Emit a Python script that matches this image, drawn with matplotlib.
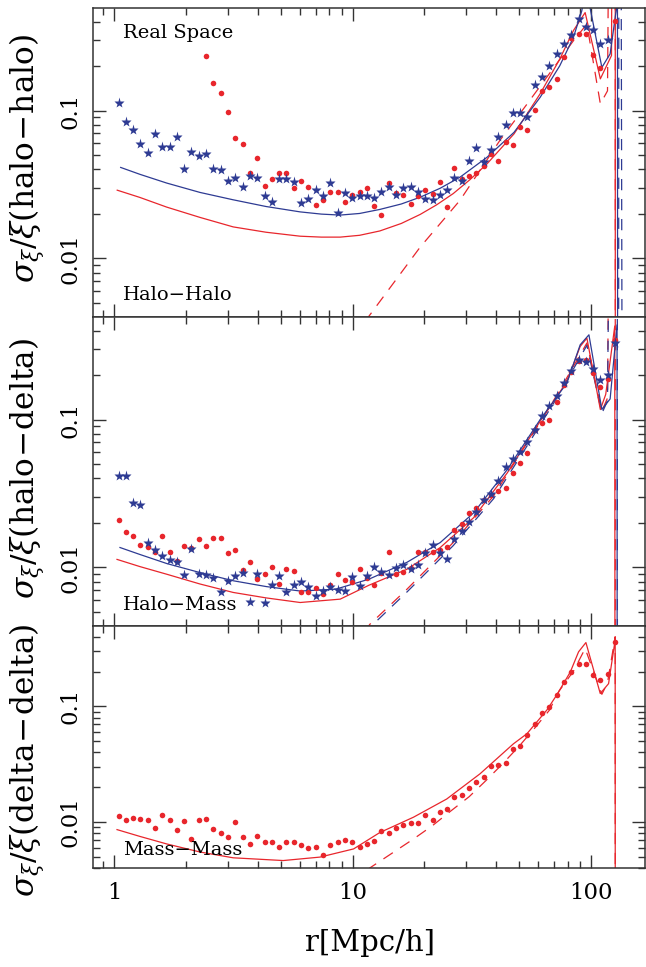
import numpy as np
import matplotlib
matplotlib.use('AGG')
from matplotlib import pyplot
from matplotlib.ticker import NullFormatter

pyplot.rcParams['font.family'] = ['DejaVu Serif']
pyplot.rcParams['mathtext.fontset'] = 'dejavuserif'

RED = '#e8262c'
BLUE = '#2e3b93'
nan = np.nan

# separation bins (Mpc/h)
r_bins = [1.045, 1.121, 1.203, 1.291, 1.385, 1.486, 1.595, 1.711, 1.836, 1.970,
          2.113, 2.268, 2.433, 2.611, 2.802, 3.006, 3.226, 3.461, 3.714, 3.985,
          4.276, 4.588, 4.923, 5.283, 5.668, 6.081, 6.526, 7.002, 7.513, 8.061,
          8.650, 9.281, 9.959, 10.69, 11.47, 12.30, 13.20, 14.17, 15.20, 16.31,
          17.50, 18.78, 20.15, 21.62, 23.20, 24.89, 26.71, 28.66, 30.75, 33.00,
          35.40, 37.99, 40.76, 43.74, 46.93, 50.35, 54.03, 57.97, 62.21, 66.75,
          71.61, 76.84, 82.45, 88.47, 94.93, 101.9, 109.3, 117.3, 125.9]

# halo-halo
hh_stars = [0.113, 0.0843, 0.0744, 0.0598, 0.052, 0.0689, 0.0571, 0.0571, 0.0658, 0.0399,
            0.0528, 0.0489, 0.0505, 0.0399, 0.0394, 0.0336, 0.0347, 0.0306, 0.0358, 0.0352,
            0.0262, 0.0239, 0.0342, 0.0342, 0.0326, 0.0235, 0.0251, 0.0288, 0.0262, 0.0321,
            0.0201, 0.0275, 0.0254, 0.0262, 0.0262, 0.0254, 0.0279, 0.0306, 0.0270, 0.0297,
            0.0306, 0.0279, 0.0251, 0.0247, 0.0267, 0.0292, 0.0352, 0.0336, 0.0459, 0.0562,
            0.0446, 0.0537, 0.0658, 0.0804, 0.0969, 0.0969, 0.091, 0.150, 0.170, 0.201,
            0.243, 0.284, 0.327, 0.419, 0.370, 0.353, 0.284, 0.302, nan]
hh_dots = [nan, nan, nan, nan, nan, nan, nan, nan, nan, nan,
           nan, nan, 0.236, 0.154, 0.131, 0.0985, 0.0655, 0.0596, 0.0379, 0.0474,
           0.0308, 0.0343, 0.0379, 0.0375, 0.0297, 0.0333, 0.0306, 0.0229, 0.0247, 0.0281,
           0.0281, 0.0240, 0.0267, 0.0279, 0.0299, 0.0225, 0.0197, 0.0323, 0.0278, 0.0269,
           0.0234, 0.0262, 0.0292, 0.0273, 0.0328, 0.0222, 0.0407, 0.0342, 0.0360, 0.0379,
           0.0423, 0.0509, 0.0454, 0.0611, 0.0586, 0.078, 0.0741, 0.1016, 0.135, 0.1445,
           0.164, 0.232, 0.310, 0.328, 0.331, 0.239, 0.193, nan, 0.406]

hh_blue_r = [1.067, 1.285, 1.663, 2.294, 3.15, 4.34, 6.03, 7.4, 8.87, 10.7, 13.0, 16.0, 19.2,
             23.3, 28.2, 36.6, 47.5, 61.1, 73.8, 84.2, 91.3, 95.0, 98.8, 110.8, 120.0, 128.8, 129.2]
hh_blue = [0.0412, 0.0370, 0.0323, 0.0279, 0.0249, 0.0224, 0.0206, 0.0199, 0.0196, 0.0201,
           0.0214, 0.0233, 0.0259, 0.0298, 0.0354, 0.0483, 0.0713, 0.123, 0.201, 0.313, 0.474,
           0.70, 0.50, 0.196, 0.242, 0.55, 1e-6]
hh_red_r = [1.032, 1.285, 1.663, 2.294, 3.16, 4.34, 6.03, 7.4, 8.87, 10.7, 13.0, 16.0, 19.2,
            22.5, 26.4, 31.0, 36.6, 47.5, 61.1, 73.8, 84.2, 94.3, 109.2, 121.6, 126.0, 126.2]
hh_red = [0.0289, 0.0258, 0.0222, 0.0189, 0.0163, 0.0150, 0.0141, 0.0139, 0.0139, 0.0143,
          0.0153, 0.0172, 0.0198, 0.0230, 0.0274, 0.0340, 0.0436, 0.0696, 0.130, 0.223, 0.348,
          0.461, 0.164, 0.236, 1e6, 1e-6]
hh_red_lin_r = [10.0, 11.8, 19.2, 28.2, 41.4, 53.9, 69.8, 84.2, 95.9, 109.2, 117.0, 126.0, 126.2]
hh_red_lin = [0.0029, 0.00412, 0.0119, 0.0247, 0.0627, 0.111, 0.196, 0.297, 0.385, 0.111,
              0.136, 1e6, 1e-6]
hh_blue_lin_r = [130.0, 131.0, 136.0]
hh_blue_lin = [1e-6, 1e6, 1e-6]

# halo-mass
hm_stars = [0.0414, 0.0414, 0.0273, 0.0265, 0.0145, 0.0131, 0.0119, 0.0112, 0.0109, 0.00883,
            0.0132, 0.00893, 0.00883, 0.00847, 0.00681, 0.00813, 0.00873, 0.0091, 0.00583, 0.00893,
            0.00569, 0.00755, 0.00879, 0.00681, 0.00764, 0.0080, 0.00736, 0.0064, 0.00689, 0.00733,
            0.00703, 0.00692, 0.00865, 0.00741, 0.00873, 0.01005, 0.00935, 0.00887, 0.00984, 0.0103,
            0.00969, 0.0103, 0.0124, 0.0142, 0.0124, 0.0113, 0.0156, 0.0177, 0.0204, 0.0237,
            0.0285, 0.0311, 0.0381, 0.0479, 0.0537, 0.0601, 0.0703, 0.0847, 0.105, 0.123,
            0.145, 0.177, 0.212, 0.252, 0.245, 0.221, 0.184, 0.201, 0.330]
hm_dots = [0.0208, 0.0173, 0.0163, 0.0141, 0.0138, 0.0126, 0.0163, 0.0126, 0.0111, 0.0139,
           0.0136, 0.0155, 0.0139, 0.0157, 0.0158, 0.0124, 0.0130, 0.00955, 0.0108, 0.0083,
           0.00893, 0.0100, 0.00776, 0.00969, 0.0094, 0.00681, 0.00681, 0.00725, 0.00655, 0.00755,
           0.00897, 0.0082, 0.00796, 0.00969, 0.00851, 0.00755, 0.0092, 0.0126, 0.00906, 0.00929,
           0.00995, 0.0126, 0.01276, 0.01272, 0.0130, 0.0137, 0.0178, 0.0195, 0.0234, 0.0251,
           0.0285, 0.0308, 0.0328, 0.0346, 0.0432, 0.0509, 0.0596, 0.0847, 0.095, 0.0989,
           0.132, 0.172, 0.209, 0.248, 0.254, 0.207, 0.166, 0.189, 0.348]

hm_blue_r = [1.06, 1.285, 1.663, 2.294, 3.16, 4.34, 6.03, 8.5, 11.7, 16.9, 23.3, 32.2, 44.5,
             61.1, 79.1, 89.9, 97.8, 110.8, 120.0, 128.3, 128.6]
hm_blue = [0.0136, 0.0122, 0.0106, 0.0092, 0.0081, 0.0074, 0.0069, 0.0071, 0.0083, 0.0108,
           0.0147, 0.0234, 0.0459, 0.100, 0.177, 0.321, 0.375, 0.117, 0.138, 0.438, 1e-6]
hm_red_r = [1.03, 1.285, 1.663, 2.294, 3.16, 4.34, 6.03, 8.87, 11.7, 16.9, 23.3, 32.2, 44.5,
            61.1, 79.1, 89.9, 95.9, 109.2, 115.0, 125.5, 126.0]
hm_red = [0.0113, 0.0101, 0.00897, 0.0077, 0.00675, 0.0062, 0.00577, 0.00608, 0.00755, 0.00969,
          0.0136, 0.0217, 0.0436, 0.0974, 0.181, 0.313, 0.356, 0.117, 0.148, 0.43, 1e-6]
hm_red_lin_r = [10.0, 11.8, 16.9, 26.4, 38.9, 53.9, 69.8, 84.2, 95.9, 110.8, 117.0, 126.0, 126.2]
hm_red_lin = [0.0028, 0.0041, 0.0071, 0.0147, 0.0303, 0.0696, 0.136, 0.229, 0.330, 0.114,
              0.140, 1e6, 1e-6]
hm_blue_lin_r = [10.0, 11.8, 16.9, 26.4, 38.9, 53.9, 69.8, 84.2, 95.9, 110.8, 117.0, 128.5, 128.8]
hm_blue_lin = [0.0027, 0.0039, 0.0068, 0.0140, 0.0290, 0.0665, 0.130, 0.220, 0.318, 0.110,
               0.134, 1e6, 1e-6]

# mass-mass
mm_dots = [0.01128, 0.01035, 0.01076, 0.01067, 0.01035, 0.00887, 0.01143, 0.01035, 0.00847, 0.01014,
           0.00713, 0.0104, 0.01061, 0.00871, 0.00809, 0.00747, 0.01007, 0.00747, 0.00646, 0.00757,
           0.00673, 0.00673, 0.00613, 0.00673, 0.00673, 0.00637, 0.0060, 0.00608, 0.0052, 0.00637,
           0.00676, 0.00695, 0.00668, 0.00605, 0.00643, 0.0069, 0.00836, 0.00809, 0.00883, 0.00942,
           0.0098, 0.0098, 0.01156, 0.01047, 0.01219, 0.01303, 0.01652, 0.0171, 0.01963, 0.02223,
           0.02425, 0.03055, 0.0314, 0.03226, 0.04235, 0.04495, 0.0562, 0.0704, 0.0882, 0.0994,
           0.126, 0.162, 0.198, 0.233, 0.233, 0.1875, 0.1675, 0.191, 0.361]
mm_red_r = [1.03, 1.285, 1.663, 2.294, 3.16, 5.12, 7.3, 10.1, 13.0, 18.0, 24.8, 34.2, 47.2,
            53.8, 65.2, 71.8, 81.7, 88.5, 95.0, 109.1, 118.2, 126.0, 126.2]
mm_red = [0.00859, 0.0075, 0.00646, 0.0055, 0.0049, 0.00464, 0.00497, 0.00585, 0.0081, 0.0110,
          0.0158, 0.0261, 0.0474, 0.058, 0.093, 0.126, 0.198, 0.296, 0.356, 0.129, 0.157,
          0.376, 1e-6]
mm_red_lin_r = [10.0, 11.8, 18.0, 21.6, 25.8, 30.8, 36.2, 42.5, 49.9, 57.7, 66.7, 73.4, 84.3,
                94.3, 110.8, 117.0, 126.0, 126.2]
mm_red_lin = [0.0029, 0.0040, 0.00713, 0.00929, 0.01245, 0.01655, 0.0228, 0.0318, 0.0453,
              0.0641, 0.0923, 0.136, 0.202, 0.316, 0.127, 0.160, 0.40, 1e-6]

fig = pyplot.figure(figsize=(6.46, 9.67), dpi=100)
W, H = 646.0, 967.0
left, right = 93 / W, 645 / W
rows = [(8, 317), (317, 626), (626, 868)]
axes = []
for top, bot in rows:
    ax = fig.add_axes([left, 1 - bot / H, right - left, (bot - top) / H])
    axes.append(ax)

dash = (9, 7)
lw = 0.9


def style(ax, bottom_labels):
    ax.set_xscale('log')
    ax.set_yscale('log')
    ax.set_xlim(0.817, 168)
    ax.set_ylim(0.004, 0.495)
    ax.set_yticks([0.01, 0.1])
    ax.set_yticklabels(['0.01', '0.1'])
    ax.yaxis.set_minor_formatter(NullFormatter())
    ax.set_xticks([1, 10, 100])
    ax.xaxis.set_minor_formatter(NullFormatter())
    if bottom_labels:
        ax.set_xticklabels(['1', '10', '100'])
    else:
        ax.set_xticklabels([])
    ax.tick_params(which='both', direction='in', top=True, right=True, color='#333333', width=1.0)
    ax.tick_params(which='major', length=9.5)
    ax.tick_params(which='minor', length=5)
    ax.tick_params(axis='y', labelsize=16.5, pad=8, labelrotation=90)
    ax.tick_params(axis='x', labelsize=16.5, pad=10)
    for lab in ax.get_yticklabels():
        lab.set_verticalalignment('center')
    for sp in ax.spines.values():
        sp.set_linewidth(1.1)
        sp.set_color('#333333')


# top panel: halo-halo
ax = axes[0]
ax.plot(hh_red_lin_r, hh_red_lin, color=RED, lw=lw, dashes=dash)
ax.plot(hh_blue_lin_r, hh_blue_lin, color=BLUE, lw=lw, dashes=dash)
ax.plot(hh_red_r, hh_red, color=RED, lw=lw)
ax.plot(hh_blue_r, hh_blue, color=BLUE, lw=lw)
ax.plot(r_bins, hh_dots, 'o', color=RED, ms=4, mec='none')
ax.plot(r_bins, hh_stars, '*', color=BLUE, ms=8, mec='none')
ax.text(0.054, 0.92, 'Real Space', transform=ax.transAxes, fontsize=14, va='center')
ax.text(0.054, 0.071, 'Halo\u2212Halo', transform=ax.transAxes, fontsize=14, va='center')
style(ax, False)

# middle panel: halo-mass
ax = axes[1]
ax.plot(hm_red_lin_r, hm_red_lin, color=RED, lw=lw, dashes=dash)
ax.plot(hm_blue_lin_r, hm_blue_lin, color=BLUE, lw=lw, dashes=dash)
ax.plot(hm_red_r, hm_red, color=RED, lw=lw)
ax.plot(hm_blue_r, hm_blue, color=BLUE, lw=lw)
ax.plot(r_bins, hm_dots, 'o', color=RED, ms=4, mec='none')
ax.plot(r_bins, hm_stars, '*', color=BLUE, ms=8, mec='none')
ax.text(0.054, 0.068, 'Halo\u2212Mass', transform=ax.transAxes, fontsize=14, va='center')
style(ax, False)

# bottom panel: mass-mass
ax = axes[2]
ax.plot(mm_red_lin_r, mm_red_lin, color=RED, lw=lw, dashes=dash)
ax.plot(mm_red_r, mm_red, color=RED, lw=lw)
ax.plot(r_bins, mm_dots, 'o', color=RED, ms=4, mec='none')
ax.text(0.054, 0.074, 'Mass\u2212Mass', transform=ax.transAxes, fontsize=14, va='center')
style(ax, True)

ylabels = [r'$\sigma_\xi/\xi(\mathrm{halo\!-\!halo})$',
           r'$\sigma_\xi/\xi(\mathrm{halo\!-\!delta})$',
           r'$\sigma_\xi/\xi(\mathrm{delta\!-\!delta})$']
centers = [158, 468, 760]
for lab, c in zip(ylabels, centers):
    fig.text(27 / W, 1 - c / H, lab, rotation=90, ha='center', va='center', fontsize=22.5)

fig.text(370 / W, 1 - 943 / H, 'r[Mpc/h]', ha='center', va='center', fontsize=21)

pyplot.savefig('out.png', dpi=100)
